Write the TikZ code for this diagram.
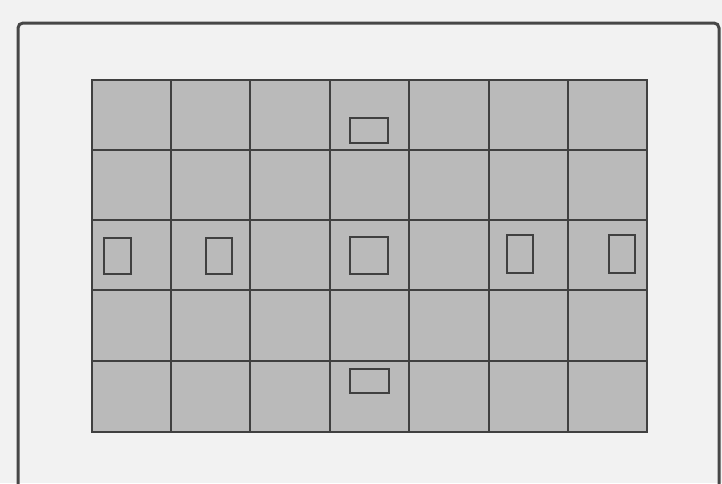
\documentclass[tikz,border=0pt]{standalone}
\begin{document}
\begin{tikzpicture}[x=1pt,y=-1pt,
  framebox/.style={draw=black!72,line width=3pt,rounded corners=5pt},
  gridline/.style={draw=black!75,line width=2.4pt},
  marker/.style={draw=black!75,line width=2.4pt}]
\useasboundingbox[fill=black!5] (0,0) rectangle (722,483);
\draw[framebox] (18,23) rectangle (719,520);
\fill[black!27] (92,80) rectangle (647,432);
\foreach \x in {92,171,250,330,409,489,568,647}
  \draw[gridline] (\x,80) -- (\x,432);
\foreach \y in {80,150,220,290,361,432}
  \draw[gridline] (92,\y) -- (647,\y);
\draw[gridline] (92,80) rectangle (647,432);
\draw[marker] (350,118) rectangle (388,143);
\draw[marker] (350,369) rectangle (389,393);
\draw[marker] (104,238) rectangle (131,274);
\draw[marker] (206,238) rectangle (232,274);
\draw[marker] (350,237) rectangle (388,274);
\draw[marker] (507,235) rectangle (533,273);
\draw[marker] (609,235) rectangle (635,273);
\end{tikzpicture}
\end{document}
